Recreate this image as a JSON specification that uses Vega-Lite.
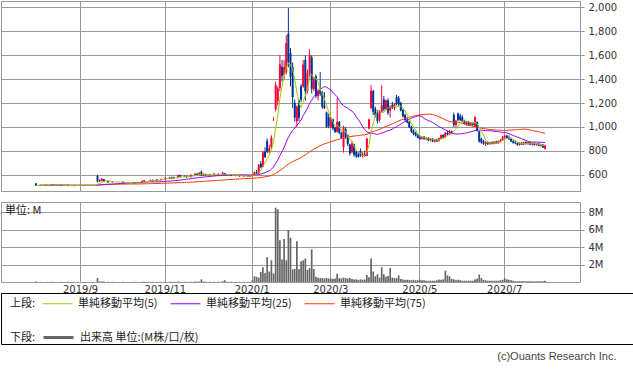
{
"$schema":"https://vega.github.io/schema/vega-lite/v6.json",
"padding":0,
"background":"white",
"bounds":"flush",
"spacing":11,
"title":{"text":"(c)Ouants Research Inc.","orient":"bottom","anchor":"end","font":"Liberation Sans","fontSize":11,"fontWeight":"normal","color":"#444444","offset":6,"dx":-17},
"resolve":{"scale":{"color":"independent"},"legend":{"color":"independent"}},
"datasets":{"px":[
{"d":"2019-07-09"},{"d":"2019-07-10"},{"d":"2019-07-11"},{"d":"2019-07-12"},{"d":"2019-07-16"},{"d":"2019-07-17"},{"d":"2019-07-18"},{"d":"2019-07-19"},{"d":"2019-07-22"},{"d":"2019-07-23"},{"d":"2019-07-24"},{"d":"2019-07-25"},{"d":"2019-07-26"},{"d":"2019-07-29"},{"d":"2019-07-30"},{"d":"2019-07-31"},
{"d":"2019-08-01","o":525,"h":530,"l":505,"c":510,"v":0.05},
{"d":"2019-08-02","c":510,"v":0},
{"d":"2019-08-05","o":510,"h":515,"l":508,"c":514,"v":0.02},
{"d":"2019-08-06","c":514,"v":0},
{"d":"2019-08-07","c":514,"v":0},
{"d":"2019-08-08","o":514,"h":514,"l":508,"c":510,"v":0.02},
{"d":"2019-08-09","c":510,"v":0},
{"d":"2019-08-13","o":508,"h":516,"l":508,"c":515,"v":0.02},
{"d":"2019-08-14","o":512,"h":518,"l":510,"c":516,"v":0.03},
{"d":"2019-08-15","c":516,"v":0},
{"d":"2019-08-16","c":516,"v":0},
{"d":"2019-08-19","c":516,"v":0},
{"d":"2019-08-20","o":514,"h":516,"l":508,"c":510,"v":0.02},
{"d":"2019-08-21","c":510,"v":0},
{"d":"2019-08-22","c":510,"v":0},
{"d":"2019-08-23","o":514,"h":516,"l":506,"c":508,"v":0.02},
{"d":"2019-08-26","c":508,"v":0},
{"d":"2019-08-27","c":508,"v":0},
{"d":"2019-08-28","o":508,"h":514,"l":506,"c":512,"v":0.02},
{"d":"2019-08-29","c":512,"v":0},
{"d":"2019-08-30","c":512,"v":0},
{"d":"2019-09-02","c":512,"v":0},
{"d":"2019-09-03","c":512,"v":0},
{"d":"2019-09-04","o":510,"h":514,"l":508,"c":512,"v":0.01},
{"d":"2019-09-05","c":512,"v":0},
{"d":"2019-09-06","c":512,"v":0},
{"d":"2019-09-09","c":512,"v":0},
{"d":"2019-09-10","c":512,"v":0},
{"d":"2019-09-11","c":512,"v":0},
{"d":"2019-09-12","o":590,"h":600,"l":535,"c":545,"v":0.45},
{"d":"2019-09-13","o":545,"h":560,"l":540,"c":555,"v":0.08},
{"d":"2019-09-17","o":550,"h":570,"l":548,"c":565,"v":0.05},
{"d":"2019-09-18","o":560,"h":562,"l":540,"c":545,"v":0.05},
{"d":"2019-09-19","c":545,"v":0},
{"d":"2019-09-20","o":545,"h":548,"l":535,"c":538,"v":0.03},
{"d":"2019-09-24","c":538,"v":0},
{"d":"2019-09-25","o":540,"h":545,"l":535,"c":540,"v":0.02},
{"d":"2019-09-26","c":540,"v":0},
{"d":"2019-09-27","c":540,"v":0},
{"d":"2019-09-30","c":540,"v":0},
{"d":"2019-10-01","c":540,"v":0},
{"d":"2019-10-02","o":538,"h":542,"l":530,"c":532,"v":0.02},
{"d":"2019-10-03","c":532,"v":0},
{"d":"2019-10-04","c":532,"v":0},
{"d":"2019-10-07","c":532,"v":0},
{"d":"2019-10-08","c":532,"v":0},
{"d":"2019-10-09","o":535,"h":540,"l":528,"c":530,"v":0.03},
{"d":"2019-10-10","o":532,"h":535,"l":526,"c":528,"v":0.02},
{"d":"2019-10-11","c":528,"v":0},
{"d":"2019-10-15","c":528,"v":0},
{"d":"2019-10-16","o":530,"h":548,"l":528,"c":545,"v":0.03},
{"d":"2019-10-17","o":545,"h":555,"l":542,"c":552,"v":0.03},
{"d":"2019-10-18","c":552,"v":0},
{"d":"2019-10-21","c":552,"v":0},
{"d":"2019-10-23","o":550,"h":560,"l":548,"c":556,"v":0.02},
{"d":"2019-10-24","o":556,"h":558,"l":545,"c":548,"v":0.02},
{"d":"2019-10-25","c":548,"v":0},
{"d":"2019-10-28","o":548,"h":562,"l":546,"c":560,"v":0.03},
{"d":"2019-10-29","c":560,"v":0},
{"d":"2019-10-30","o":558,"h":565,"l":552,"c":562,"v":0.02},
{"d":"2019-10-31","c":562,"v":0},
{"d":"2019-11-01","o":562,"h":578,"l":560,"c":575,"v":0.03},
{"d":"2019-11-05","c":575,"v":0},
{"d":"2019-11-06","o":575,"h":578,"l":565,"c":568,"v":0.02},
{"d":"2019-11-07","o":568,"h":582,"l":566,"c":580,"v":0.03},
{"d":"2019-11-08","o":580,"h":582,"l":570,"c":572,"v":0.02},
{"d":"2019-11-11","c":572,"v":0},
{"d":"2019-11-12","o":575,"h":598,"l":572,"c":595,"v":0.05},
{"d":"2019-11-13","o":595,"h":600,"l":582,"c":585,"v":0.03},
{"d":"2019-11-14","c":585,"v":0},
{"d":"2019-11-15","o":585,"h":595,"l":580,"c":590,"v":0.02},
{"d":"2019-11-18","o":590,"h":592,"l":578,"c":580,"v":0.02},
{"d":"2019-11-19","c":580,"v":0},
{"d":"2019-11-20","o":582,"h":600,"l":580,"c":598,"v":0.03},
{"d":"2019-11-21","c":598,"v":0},
{"d":"2019-11-22","o":598,"h":612,"l":595,"c":605,"v":0.05},
{"d":"2019-11-25","o":605,"h":615,"l":598,"c":600,"v":0.04},
{"d":"2019-11-26","o":600,"h":620,"l":598,"c":615,"v":0.05},
{"d":"2019-11-27","o":625,"h":635,"l":590,"c":595,"v":0.3},
{"d":"2019-11-28","o":595,"h":610,"l":590,"c":605,"v":0.05},
{"d":"2019-11-29","o":605,"h":608,"l":595,"c":598,"v":0.03},
{"d":"2019-12-02","c":598,"v":0},
{"d":"2019-12-03","o":598,"h":605,"l":595,"c":600,"v":0.02},
{"d":"2019-12-04","c":600,"v":0},
{"d":"2019-12-05","o":598,"h":610,"l":596,"c":608,"v":0.03},
{"d":"2019-12-06","c":608,"v":0},
{"d":"2019-12-09","o":605,"h":608,"l":596,"c":598,"v":0.02},
{"d":"2019-12-10","c":598,"v":0},
{"d":"2019-12-11","o":598,"h":625,"l":596,"c":615,"v":0.08},
{"d":"2019-12-12","o":612,"h":615,"l":595,"c":598,"v":0.2},
{"d":"2019-12-13","o":598,"h":605,"l":595,"c":603,"v":0.03},
{"d":"2019-12-16","c":603,"v":0},
{"d":"2019-12-17","o":600,"h":602,"l":590,"c":592,"v":0.03},
{"d":"2019-12-18","c":592,"v":0},
{"d":"2019-12-19","o":592,"h":596,"l":588,"c":594,"v":0.02},
{"d":"2019-12-20","c":594,"v":0},
{"d":"2019-12-23","o":594,"h":596,"l":586,"c":588,"v":0.02},
{"d":"2019-12-24","c":588,"v":0},
{"d":"2019-12-25","o":588,"h":592,"l":585,"c":590,"v":0.02},
{"d":"2019-12-26","c":590,"v":0},
{"d":"2019-12-27","o":590,"h":594,"l":586,"c":588,"v":0.02},
{"d":"2019-12-30","o":588,"h":592,"l":584,"c":590,"v":0.02},
{"d":"2020-01-06","o":592,"h":600,"l":585,"c":596,"v":0.2},
{"d":"2020-01-07","o":598,"h":625,"l":595,"c":620,"v":0.65},
{"d":"2020-01-08","o":620,"h":640,"l":605,"c":612,"v":0.6},
{"d":"2020-01-09","o":612,"h":690,"l":608,"c":680,"v":0.5},
{"d":"2020-01-10","o":690,"h":715,"l":655,"c":665,"v":1.15},
{"d":"2020-01-14","o":670,"h":800,"l":665,"c":785,"v":1.7},
{"d":"2020-01-15","o":790,"h":830,"l":740,"c":750,"v":1.0},
{"d":"2020-01-16","o":880,"h":905,"l":780,"c":795,"v":2.85},
{"d":"2020-01-17","o":800,"h":850,"l":780,"c":820,"v":1.2},
{"d":"2020-01-20","o":830,"h":930,"l":815,"c":910,"v":2.5},
{"d":"2020-01-21","o":1075,"h":1080,"l":1050,"c":1075,"v":1.0},
{"d":"2020-01-22","o":1150,"h":1380,"l":1130,"c":1350,"v":8.55},
{"d":"2020-01-23","o":1220,"h":1340,"l":1180,"c":1320,"v":8.35},
{"d":"2020-01-24","o":1330,"h":1600,"l":1300,"c":1520,"v":4.8},
{"d":"2020-01-27","o":1500,"h":1560,"l":1380,"c":1430,"v":2.6},
{"d":"2020-01-28","o":1440,"h":1560,"l":1400,"c":1500,"v":4.95},
{"d":"2020-01-29","o":1460,"h":1770,"l":1440,"c":1700,"v":2.5},
{"d":"2020-01-30","o":1780,"h":1995,"l":1500,"c":1540,"v":5.95},
{"d":"2020-01-31","o":1620,"h":1660,"l":1340,"c":1420,"v":5.1},
{"d":"2020-02-03","o":1500,"h":1540,"l":1160,"c":1250,"v":1.45},
{"d":"2020-02-04","o":1200,"h":1230,"l":1045,"c":1080,"v":1.5},
{"d":"2020-02-05","o":1050,"h":1180,"l":1000,"c":1170,"v":4.7},
{"d":"2020-02-06","o":1220,"h":1230,"l":1050,"c":1080,"v":1.5},
{"d":"2020-02-07","o":1340,"h":1360,"l":1210,"c":1230,"v":2.4},
{"d":"2020-02-10","o":1340,"h":1560,"l":1330,"c":1520,"v":2.5},
{"d":"2020-02-12","o":1560,"h":1600,"l":1220,"c":1300,"v":2.7},
{"d":"2020-02-13","o":1300,"h":1480,"l":1280,"c":1450,"v":1.4},
{"d":"2020-02-14","o":1450,"h":1650,"l":1420,"c":1600,"v":1.6},
{"d":"2020-02-17","o":1580,"h":1600,"l":1280,"c":1320,"v":3.75},
{"d":"2020-02-18","o":1320,"h":1420,"l":1300,"c":1400,"v":1.5},
{"d":"2020-02-19","o":1420,"h":1440,"l":1240,"c":1260,"v":0.6},
{"d":"2020-02-20","o":1260,"h":1320,"l":1220,"c":1300,"v":0.5},
{"d":"2020-02-21","o":1300,"h":1460,"l":1260,"c":1280,"v":0.45},
{"d":"2020-02-25","o":1290,"h":1300,"l":1150,"c":1170,"v":0.45},
{"d":"2020-02-26","o":1180,"h":1290,"l":1150,"c":1160,"v":0.4},
{"d":"2020-02-27","o":1120,"h":1130,"l":990,"c":1000,"v":0.45},
{"d":"2020-02-28","o":1080,"h":1110,"l":990,"c":1010,"v":0.4},
{"d":"2020-03-02","o":1000,"h":1080,"l":990,"c":1060,"v":0.4},
{"d":"2020-03-03","o":1060,"h":1070,"l":970,"c":990,"v":0.35},
{"d":"2020-03-04","o":990,"h":1000,"l":950,"c":960,"v":0.4},
{"d":"2020-03-05","o":960,"h":1240,"l":955,"c":1040,"v":0.95},
{"d":"2020-03-06","o":1040,"h":1050,"l":940,"c":950,"v":0.45},
{"d":"2020-03-09","o":950,"h":960,"l":900,"c":910,"v":0.4},
{"d":"2020-03-10","o":830,"h":1010,"l":785,"c":990,"v":0.5},
{"d":"2020-03-11","o":980,"h":1000,"l":900,"c":920,"v":0.45},
{"d":"2020-03-12","o":930,"h":940,"l":840,"c":860,"v":0.4},
{"d":"2020-03-13","o":850,"h":860,"l":760,"c":780,"v":0.45},
{"d":"2020-03-16","o":790,"h":880,"l":780,"c":860,"v":0.35},
{"d":"2020-03-17","o":850,"h":860,"l":750,"c":770,"v":0.3},
{"d":"2020-03-18","o":790,"h":800,"l":740,"c":760,"v":0.3},
{"d":"2020-03-19","o":770,"h":790,"l":745,"c":750,"v":0.25},
{"d":"2020-03-23","o":800,"h":820,"l":750,"c":760,"v":0.3},
{"d":"2020-03-24","o":760,"h":790,"l":745,"c":770,"v":0.25},
{"d":"2020-03-25","o":770,"h":800,"l":750,"c":760,"v":0.3},
{"d":"2020-03-26","o":760,"h":910,"l":755,"c":900,"v":0.8},
{"d":"2020-03-27","o":990,"h":1070,"l":980,"c":1060,"v":0.55},
{"d":"2020-03-30","o":1160,"h":1350,"l":1150,"c":1300,"v":2.7},
{"d":"2020-03-31","o":1300,"h":1310,"l":1100,"c":1130,"v":1.2},
{"d":"2020-04-01","o":1150,"h":1170,"l":1080,"c":1100,"v":0.65},
{"d":"2020-04-02","o":1120,"h":1140,"l":1030,"c":1050,"v":0.9},
{"d":"2020-04-03","o":1060,"h":1140,"l":1040,"c":1130,"v":0.5},
{"d":"2020-04-06","o":1130,"h":1350,"l":1120,"c":1180,"v":1.7},
{"d":"2020-04-07","o":1230,"h":1260,"l":1130,"c":1150,"v":0.9},
{"d":"2020-04-08","o":1150,"h":1230,"l":1140,"c":1220,"v":0.6},
{"d":"2020-04-09","o":1220,"h":1240,"l":1100,"c":1120,"v":0.7},
{"d":"2020-04-10","o":1140,"h":1180,"l":1080,"c":1170,"v":1.6},
{"d":"2020-04-13","o":1180,"h":1210,"l":1150,"c":1160,"v":0.5},
{"d":"2020-04-14","o":1160,"h":1200,"l":1140,"c":1190,"v":0.45},
{"d":"2020-04-15","o":1250,"h":1270,"l":1180,"c":1190,"v":0.45},
{"d":"2020-04-16","o":1240,"h":1260,"l":1170,"c":1190,"v":0.75},
{"d":"2020-04-17","o":1200,"h":1210,"l":1130,"c":1140,"v":0.35},
{"d":"2020-04-20","o":1140,"h":1150,"l":1080,"c":1090,"v":0.3},
{"d":"2020-04-21","o":1100,"h":1110,"l":1050,"c":1060,"v":0.25},
{"d":"2020-04-22","o":1060,"h":1080,"l":1030,"c":1040,"v":0.25},
{"d":"2020-04-23","o":1040,"h":1050,"l":990,"c":1000,"v":0.25},
{"d":"2020-04-24","o":1000,"h":1010,"l":950,"c":960,"v":0.2},
{"d":"2020-04-27","o":970,"h":980,"l":930,"c":940,"v":0.25},
{"d":"2020-04-28","o":950,"h":960,"l":920,"c":930,"v":0.2},
{"d":"2020-04-30","o":930,"h":940,"l":905,"c":910,"v":0.2},
{"d":"2020-05-01","o":910,"h":925,"l":895,"c":900,"v":0.25},
{"d":"2020-05-07","o":905,"h":920,"l":895,"c":915,"v":0.2},
{"d":"2020-05-08","o":915,"h":925,"l":895,"c":900,"v":0.2},
{"d":"2020-05-11","o":900,"h":915,"l":890,"c":905,"v":0.15},
{"d":"2020-05-12","o":905,"h":915,"l":880,"c":890,"v":0.15},
{"d":"2020-05-13","o":890,"h":905,"l":880,"c":900,"v":0.15},
{"d":"2020-05-14","o":900,"h":905,"l":875,"c":880,"v":0.15},
{"d":"2020-05-15","o":880,"h":900,"l":870,"c":895,"v":0.15},
{"d":"2020-05-18","o":890,"h":900,"l":875,"c":880,"v":0.2},
{"d":"2020-05-19","o":885,"h":910,"l":880,"c":905,"v":0.3},
{"d":"2020-05-20","o":905,"h":935,"l":900,"c":930,"v":0.25},
{"d":"2020-05-21","o":930,"h":940,"l":905,"c":915,"v":0.3},
{"d":"2020-05-22","o":915,"h":960,"l":910,"c":950,"v":1.3},
{"d":"2020-05-25","o":950,"h":970,"l":930,"c":940,"v":0.75},
{"d":"2020-05-26","o":940,"h":975,"l":935,"c":965,"v":0.65},
{"d":"2020-05-27","o":960,"h":970,"l":940,"c":950,"v":0.35},
{"d":"2020-05-28","o":1100,"h":1120,"l":1000,"c":1020,"v":0.3},
{"d":"2020-05-29","o":1020,"h":1060,"l":1000,"c":1050,"v":0.2},
{"d":"2020-06-01","o":1110,"h":1120,"l":1050,"c":1060,"v":0.25},
{"d":"2020-06-02","o":1090,"h":1110,"l":1050,"c":1060,"v":0.2},
{"d":"2020-06-03","o":1080,"h":1100,"l":1040,"c":1050,"v":0.15},
{"d":"2020-06-04","o":1050,"h":1060,"l":1020,"c":1030,"v":0.15},
{"d":"2020-06-05","o":1020,"h":1050,"l":1010,"c":1040,"v":0.15},
{"d":"2020-06-08","o":1040,"h":1050,"l":1010,"c":1020,"v":0.15},
{"d":"2020-06-09","o":1020,"h":1040,"l":1010,"c":1035,"v":0.15},
{"d":"2020-06-10","o":1030,"h":1040,"l":1010,"c":1020,"v":0.15},
{"d":"2020-06-11","o":1010,"h":1090,"l":1000,"c":1080,"v":0.3},
{"d":"2020-06-12","o":1040,"h":1045,"l":960,"c":970,"v":0.4},
{"d":"2020-06-15","o":960,"h":965,"l":870,"c":880,"v":0.85},
{"d":"2020-06-16","o":900,"h":910,"l":860,"c":870,"v":0.45},
{"d":"2020-06-17","o":880,"h":890,"l":850,"c":860,"v":0.25},
{"d":"2020-06-18","o":860,"h":880,"l":840,"c":870,"v":0.2},
{"d":"2020-06-19","o":870,"h":880,"l":850,"c":860,"v":0.15},
{"d":"2020-06-22","o":860,"h":875,"l":850,"c":870,"v":0.15},
{"d":"2020-06-23","o":870,"h":880,"l":855,"c":860,"v":0.15},
{"d":"2020-06-24","o":860,"h":880,"l":855,"c":875,"v":0.15},
{"d":"2020-06-25","o":875,"h":885,"l":860,"c":865,"v":0.15},
{"d":"2020-06-26","o":865,"h":885,"l":860,"c":880,"v":0.15},
{"d":"2020-06-29","o":880,"h":900,"l":870,"c":890,"v":0.2},
{"d":"2020-06-30","o":890,"h":925,"l":885,"c":915,"v":0.25},
{"d":"2020-07-01","o":915,"h":935,"l":900,"c":925,"v":0.4},
{"d":"2020-07-02","o":925,"h":935,"l":905,"c":910,"v":0.3},
{"d":"2020-07-03","o":910,"h":930,"l":890,"c":900,"v":0.25},
{"d":"2020-07-06","o":900,"h":910,"l":875,"c":880,"v":0.2},
{"d":"2020-07-07","o":880,"h":890,"l":860,"c":870,"v":0.15},
{"d":"2020-07-08","o":870,"h":885,"l":855,"c":865,"v":0.1},
{"d":"2020-07-09","o":865,"h":870,"l":845,"c":850,"v":0.1},
{"d":"2020-07-10","o":850,"h":870,"l":845,"c":865,"v":0.1},
{"d":"2020-07-13","o":865,"h":875,"l":850,"c":855,"v":0.1},
{"d":"2020-07-14","o":855,"h":875,"l":850,"c":870,"v":0.1},
{"d":"2020-07-15","o":870,"h":880,"l":855,"c":860,"v":0.1},
{"d":"2020-07-16","o":860,"h":875,"l":850,"c":870,"v":0.08},
{"d":"2020-07-17","o":870,"h":875,"l":850,"c":855,"v":0.08},
{"d":"2020-07-20","o":855,"h":870,"l":845,"c":865,"v":0.08},
{"d":"2020-07-21","o":865,"h":870,"l":845,"c":850,"v":0.08},
{"d":"2020-07-22","o":850,"h":865,"l":845,"c":860,"v":0.08},
{"d":"2020-07-27","o":860,"h":865,"l":840,"c":845,"v":0.08},
{"d":"2020-07-28","o":845,"h":860,"l":835,"c":850,"v":0.08},
{"d":"2020-07-29","o":850,"h":855,"l":825,"c":830,"v":0.1},
{"d":"2020-07-30","o":820,"h":850,"l":810,"c":845,"v":0.15},
{"d":"2020-07-31"},{"d":"2020-08-03"},{"d":"2020-08-04"},{"d":"2020-08-05"},{"d":"2020-08-06"},{"d":"2020-08-07"},{"d":"2020-08-11"},{"d":"2020-08-12"},{"d":"2020-08-13"},{"d":"2020-08-14"},{"d":"2020-08-17"},{"d":"2020-08-18"},{"d":"2020-08-19"},{"d":"2020-08-20"},{"d":"2020-08-21"},{"d":"2020-08-24"}
]},
"vconcat":[
{
"width":579,"height":190,
"data":{"name":"px"},
"encoding":{"x":{"field":"d","type":"ordinal","title":null,"scale":{"type":"band","paddingInner":0,"paddingOuter":0},
  "axis":{"values":["2019-09-02","2019-11-01","2020-01-06","2020-03-02","2020-05-01","2020-07-01"],"labels":false,"ticks":false,"domain":false,"grid":true,"bandPosition":0.5}}},
"layer":[
{"mark":{"type":"rule","strokeWidth":1},
 "encoding":{
  "y":{"field":"l","type":"quantitative","title":null,"scale":{"domain":[464,2054],"nice":false,"zero":false},
   "axis":{"orient":"right","values":[600,800,1000,1200,1400,1600,1800,2000],"labelExpr":"format(datum.value, ',')","labelOverlap":false,"grid":true,"domain":false,"tickSize":4,"labelPadding":4}},
  "y2":{"field":"h"},
  "color":{"condition":{"test":"datum.c >= datum.o","value":"#ff0033"},"value":"#003399"}}},
{"mark":{"type":"bar","width":{"band":0.45},"strokeWidth":1},
 "encoding":{
  "y":{"field":"o","type":"quantitative","title":null,
   "axis":{"orient":"right","values":[600,800,1000,1200,1400,1600,1800,2000],"labelExpr":"format(datum.value, ',')","labelOverlap":false,"grid":true,"domain":false,"tickSize":4,"labelPadding":4}},
  "y2":{"field":"c"},
  "color":{"condition":{"test":"datum.c >= datum.o","value":"#ff0033"},"value":"#003399"},
  "stroke":{"condition":{"test":"datum.c >= datum.o","value":"#ff0033"},"value":"#003399"}}},
{"transform":[{"filter":"isValid(datum.c)"},{"window":[{"op":"mean","field":"c","as":"m"}],"frame":[-74,0],"sort":[{"field":"d"}]}],
 "mark":{"type":"line","strokeWidth":1},
 "encoding":{"y":{"field":"m","type":"quantitative","title":null,
   "axis":{"orient":"right","values":[600,800,1000,1200,1400,1600,1800,2000],"labelExpr":"format(datum.value, ',')","labelOverlap":false,"grid":true,"domain":false,"tickSize":4,"labelPadding":4}},
  "color":{"datum":"単純移動平均(75)","type":"nominal",
   "scale":{"domain":["単純移動平均(5)","単純移動平均(25)","単純移動平均(75)"],"range":["#99cc00","#9900ff","#ff3300"]},
   "legend":{"title":"上段:","legendX":9,"legendY":287,"symbolStrokeWidth":1}}}},
{"transform":[{"filter":"isValid(datum.c)"},{"window":[{"op":"mean","field":"c","as":"m"}],"frame":[-24,0],"sort":[{"field":"d"}]}],
 "mark":{"type":"line","strokeWidth":1},
 "encoding":{"y":{"field":"m","type":"quantitative","title":null,
   "axis":{"orient":"right","values":[600,800,1000,1200,1400,1600,1800,2000],"labelExpr":"format(datum.value, ',')","labelOverlap":false,"grid":true,"domain":false,"tickSize":4,"labelPadding":4}},
  "color":{"datum":"単純移動平均(25)","type":"nominal"}}},
{"transform":[{"filter":"isValid(datum.c)"},{"window":[{"op":"mean","field":"c","as":"m"}],"frame":[-4,0],"sort":[{"field":"d"}]}],
 "mark":{"type":"line","strokeWidth":1},
 "encoding":{"y":{"field":"m","type":"quantitative","title":null,
   "axis":{"orient":"right","values":[600,800,1000,1200,1400,1600,1800,2000],"labelExpr":"format(datum.value, ',')","labelOverlap":false,"grid":true,"domain":false,"tickSize":4,"labelPadding":4}},
  "color":{"datum":"単純移動平均(5)","type":"nominal"}}}
]
},
{
"width":579,"height":80,
"title":{"text":"単位: M","anchor":"start","offset":-14,"dx":4,"font":"Noto Sans CJK JP","fontSize":11,"fontWeight":"normal","color":"#222222"},
"layer":[
{"data":{"name":"px"},
 "mark":{"type":"bar","color":"#666666","width":{"band":0.8}},
 "encoding":{
  "x":{"field":"d","type":"ordinal","title":null,"scale":{"type":"band","paddingInner":0,"paddingOuter":0},
   "axis":{"values":["2019-09-02","2019-11-01","2020-01-06","2020-03-02","2020-05-01","2020-07-01"],"labelExpr":"slice(datum.value,0,4) + '/' + toNumber(slice(datum.value,5,7))","ticks":false,"domain":false,"grid":true,"labelAngle":0,"labelPadding":2,"bandPosition":0.5}},
  "y":{"field":"v","type":"quantitative","title":null,"scale":{"domain":[0,9.2],"nice":false},
   "axis":{"orient":"right","values":[2,4,6,8],"labelExpr":"datum.value + 'M'","labelOverlap":false,"grid":true,"domain":false,"tickSize":4,"labelPadding":4}}}},
{"data":{"values":[]},
 "mark":{"type":"line","strokeWidth":3},
 "encoding":{"color":{"datum":"出来高 単位:(M株/口/枚)","type":"nominal","scale":{"range":["#666666"]},
  "legend":{"title":"下段:","legendX":9,"legendY":119,"symbolStrokeWidth":3}}}}
]
},
{
"width":632,"height":51,
"view":{"stroke":"#000000","strokeWidth":1},
"data":{"values":[]},
"mark":"point",
"encoding":{}
}
],
"config":{
 "view":{"stroke":"#999999","strokeWidth":1},
 "mark":{"invalid":"break-paths-show-domains"},
 "axis":{"labelFont":"DejaVu Sans","labelFontSize":10,"labelColor":"#333333","gridColor":"#999999","gridWidth":1,"tickColor":"#999999"},
 "legend":{"orient":"none","direction":"horizontal","titleOrient":"left","titleAnchor":"middle","titleBaseline":"top","symbolType":"stroke","symbolSize":900,"padding":0,"labelOffset":5,"titlePadding":6,"columnPadding":10,
  "labelFont":"Noto Sans CJK JP","labelFontSize":11,"labelColor":"#222222","titleFont":"Noto Sans CJK JP","titleFontSize":11,"titleFontWeight":"normal","titleColor":"#222222"}
}
}
